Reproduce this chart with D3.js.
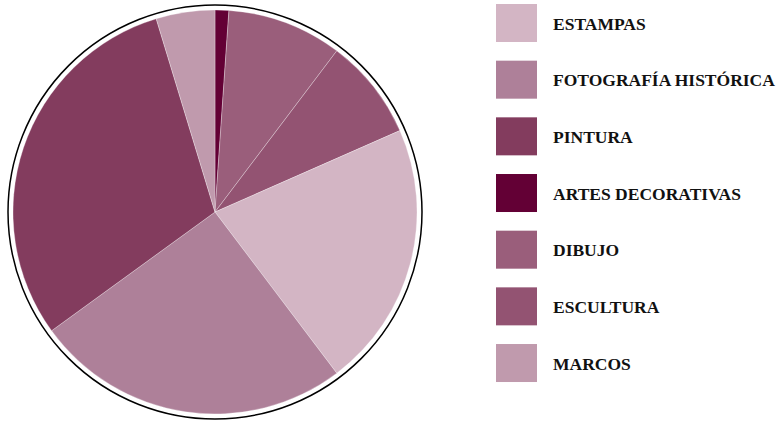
<!DOCTYPE html>
<html>
<head>
<meta charset="utf-8">
<script src="https://cdn.jsdelivr.net/npm/d3@7"></script>
<style>
  body { margin: 0; background: #fff; }
  svg { display: block; }
  .legend text { font-family: "Liberation Serif", "DejaVu Serif", serif; font-weight: bold; font-size: 17.5px; fill: #111; }
</style>
</head>
<body>
<div class="container"></div>
<script>
var width = 781,
    height = 424,
    cx = 215,
    cy = 212,
    radius = 202;

// slices, clockwise from 12 o'clock
var sliceNames = ['ARTES DECORATIVAS', 'DIBUJO', 'ESCULTURA', 'ESTAMPAS', 'FOTOGRAFÍA HISTÓRICA', 'PINTURA', 'MARCOS'];
var sliceValues = [1.1, 9.2, 8.1, 21.3, 25.3, 30.3, 4.7];

// legend order
var legendNames = ['ESTAMPAS', 'FOTOGRAFÍA HISTÓRICA', 'PINTURA', 'ARTES DECORATIVAS', 'DIBUJO', 'ESCULTURA', 'MARCOS'];
var legendColors = ['#d3b5c4', '#ae8099', '#833c5e', '#630035', '#9a5e7b', '#935372', '#c09aad'];

var color = d3.scaleOrdinal().domain(legendNames).range(legendColors);

var svg = d3.select('.container').append('svg')
    .attr('width', width)
    .attr('height', height);

var drawPie = (svg) => {
    var g = svg.append('g')
        .attr('transform', 'translate(' + cx + ',' + cy + ')');

    var pie = d3.pie().sort(null).value((d) => d.value);
    var arc = d3.arc().innerRadius(0).outerRadius(radius);

    var data = sliceNames.map((n, i) => ({ name: n, value: sliceValues[i] }));

    g.selectAll('path')
        .data(pie(data))
        .enter()
        .append('path')
        .attr('d', arc)
        .style('fill', (d) => color(d.data.name))
        .style('stroke', '#fff')
        .style('stroke-width', 0.3);

    g.append('circle')
        .attr('r', radius + 5)
        .style('fill', 'none')
        .style('stroke', '#000')
        .style('stroke-width', 1.5);
}

var drawLegend = (svg) => {
    var y = d3.scaleBand().domain(legendNames).range([4, 4 + 56.67 * 7]).paddingInner(0);
    var item = svg.append('g').attr('class', 'legend')
        .selectAll('g')
        .data(legendNames)
        .enter()
        .append('g')
        .attr('transform', (d) => 'translate(496,' + y(d) + ')');

    item.append('rect')
        .attr('width', 41)
        .attr('height', 38)
        .style('fill', (d) => color(d));

    item.append('text')
        .attr('x', 57)
        .attr('y', 25.5)
        .text((d) => d);
}

drawPie(svg);
drawLegend(svg);
</script>
</body>
</html>
